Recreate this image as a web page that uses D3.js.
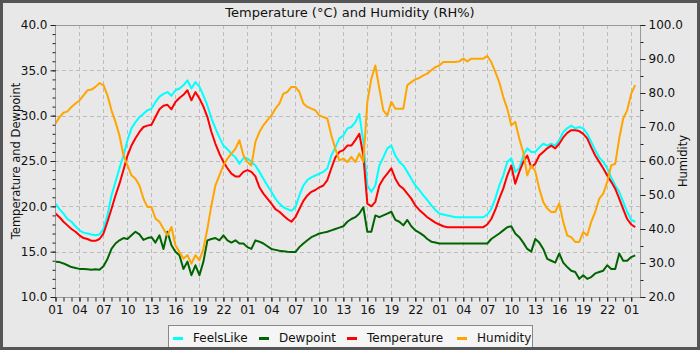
<!DOCTYPE html>
<html>
<head>
<meta charset="utf-8">
<script src="https://cdn.jsdelivr.net/npm/d3@7"></script>
<style>
  body { margin: 0; padding: 0; background: #fff; }
  text { font-family: "DejaVu Sans", sans-serif; }
</style>
</head>
<body>
<div id="chart"></div>
<script>
var width = 700,
    height = 350

// plot box (window.top is taken, so use our own names)
var plotLeft = 55, plotRight = 640, plotTop = 25, plotBottom = 297

// half-hour steps, in hours since 01:00 on the first day
var hours = d3.range(0, 73, 0.5)

// one value every half hour
var feelsLike = [
  20.3, 19.7, 19.2, 18.6, 18.3, 17.8, 17.35, 17.1, 17.0, 16.9, 16.8, 16.9,
  17.5, 19.0, 21.2, 22.7, 24.2, 25.6, 27.3, 28.6, 29.3, 29.85, 30.2, 30.6,
  30.75, 31.5, 32.1, 32.4, 32.6, 32.2, 32.8, 33.0, 33.35, 33.9, 33.0, 33.7,
  33.2, 32.2, 31.1, 29.7, 28.6, 27.6, 26.7, 26.3, 25.8, 25.4, 24.7, 25.3,
  25.3, 24.9, 24.5, 23.8, 23.05, 22.3, 21.6, 20.85, 20.3, 19.9, 19.7, 19.5,
  19.9, 21.2, 22.3, 22.9, 23.2, 23.4, 23.6, 23.8, 24.2, 25.6, 26.5, 27.5,
  27.8, 28.6, 28.75, 29.3, 30.2, 27.1, 22.3, 21.6, 22.3, 24.5, 25.4, 26.4,
  26.7, 25.6, 24.9, 24.5, 23.8, 23.05, 22.3, 21.8, 21.2, 20.7, 20.1, 19.6,
  19.2, 19.1, 19.0, 18.9, 18.8, 18.8, 18.8, 18.8, 18.8, 18.8, 18.8, 18.8,
  19.1, 19.7, 20.85, 22.3, 23.4, 24.9, 25.3, 23.8, 24.2, 25.6, 26.4, 26.0,
  26.0, 26.5, 26.9, 26.7, 26.9, 26.7, 27.3, 28.2, 28.6, 28.9, 28.6, 28.75,
  28.6, 28.0, 27.1, 26.2, 25.4, 24.9, 24.2, 23.2, 22.3, 21.6, 20.5, 19.4,
  18.5, 18.3]
var dewpoint = [
  13.9, 13.85, 13.7, 13.5, 13.3, 13.2, 13.1, 13.1, 13.05, 13.0, 13.05, 13.0,
  13.4, 14.2, 15.3, 15.9, 16.25, 16.5, 16.4, 16.8, 17.2, 16.9, 16.3, 16.5,
  16.6, 16.0, 16.8, 15.3, 17.2, 15.7, 15.0, 14.6, 13.1, 13.9, 12.4, 13.5,
  12.4, 13.9, 16.25, 16.4, 16.5, 16.25, 16.8, 16.25, 16.0, 16.25, 15.9, 15.9,
  15.5, 15.3, 16.25, 16.1, 15.9, 15.6, 15.3, 15.2, 15.1, 15.05, 15.0, 14.96,
  14.96, 15.5, 15.9, 16.25, 16.6, 16.8, 17.0, 17.1, 17.2, 17.35, 17.5, 17.65,
  17.8, 18.3, 18.6, 18.8, 19.2, 19.9, 17.2, 17.2, 19.0, 18.8, 19.0, 19.2,
  19.4, 18.5, 18.3, 17.9, 18.5, 17.8, 17.35, 17.1, 16.8, 16.4, 16.1, 16.0,
  15.9, 15.9, 15.9, 15.9, 15.9, 15.9, 15.9, 15.9, 15.9, 15.9, 15.9, 15.9,
  15.9, 16.4, 16.7, 17.0, 17.35, 17.7, 17.8, 17.0, 16.6, 16.0, 15.3, 15.0,
  16.4, 16.0, 15.3, 14.2, 14.0, 13.8, 14.8, 13.8, 13.3, 12.9, 12.75, 12.0,
  12.4, 12.0, 12.2, 12.6, 12.75, 12.9, 13.5, 13.1, 13.1, 14.8, 14.0, 14.0,
  14.4, 14.6]
var temperature = [
  19.2, 18.8, 18.3, 17.9, 17.5, 17.2, 16.8, 16.5, 16.4, 16.2, 16.2, 16.4,
  17.0, 18.3, 19.7, 21.2, 22.5, 24.0, 25.6, 26.7, 27.5, 28.2, 28.75, 28.9,
  29.0, 29.85, 30.7, 31.1, 31.2, 30.7, 31.5, 31.95, 32.3, 32.8, 31.7, 32.6,
  31.9, 31.0, 29.85, 28.2, 26.9, 25.8, 24.9, 24.2, 23.6, 23.3, 23.3, 23.8,
  24.0, 23.8, 23.3, 22.1, 21.4, 20.85, 20.3, 19.7, 19.4, 19.0, 18.6, 18.3,
  18.8, 19.7, 20.6, 21.2, 21.6, 21.8, 22.1, 22.3, 22.9, 24.2, 25.4, 26.0,
  26.2, 26.7, 26.7, 27.3, 28.0, 25.6, 20.3, 20.0, 20.5, 22.3, 23.05, 23.6,
  24.2, 23.05, 22.3, 21.95, 21.4, 20.85, 20.1, 19.6, 19.2, 18.8, 18.5, 18.2,
  18.0, 17.8, 17.7, 17.7, 17.7, 17.7, 17.7, 17.7, 17.7, 17.7, 17.7, 17.7,
  18.0, 18.6, 19.6, 20.85, 21.95, 23.4, 24.5, 22.5, 23.8, 24.9, 25.6, 24.3,
  24.7, 25.6, 26.0, 26.4, 26.7, 26.4, 26.9, 27.6, 28.1, 28.4, 28.4, 28.3,
  28.0, 27.5, 26.5, 25.6, 24.9, 24.2, 23.4, 22.7, 21.95, 20.85, 19.7, 18.6,
  18.0, 17.7]
var humidity = [
  71.0, 72.9, 74.2, 74.6, 75.9, 76.9, 77.8, 79.3, 80.8, 81.0, 81.8, 82.9,
  82.3, 79.3, 74.9, 71.5, 67.5, 61.7, 58.7, 55.8, 54.8, 52.8, 48.9, 46.5,
  46.5, 43.1, 42.1, 40.1, 38.1, 40.6, 35.2, 33.2, 31.3, 32.3, 29.8, 32.3,
  30.8, 34.2, 40.1, 47.0, 52.8, 55.8, 58.7, 60.7, 62.2, 63.6, 66.1, 61.7,
  59.7, 58.7, 65.6, 68.5, 70.5, 72.0, 73.4, 75.4, 76.9, 79.8, 80.3, 81.8,
  81.8, 80.3, 76.9, 75.9, 75.4, 74.9, 73.4, 72.9, 72.5, 67.5, 63.6, 60.2,
  60.7, 59.7, 61.2, 59.7, 62.2, 59.7, 77.4, 84.2, 88.1, 81.3, 74.9, 73.4,
  77.4, 75.4, 75.4, 75.4, 82.3, 83.2, 84.0, 84.4, 85.2, 85.7, 86.7, 87.6,
  88.1, 89.1, 89.1, 89.1, 89.1, 89.3, 90.1, 89.3, 90.1, 90.1, 90.1, 90.1,
  90.9, 89.1, 86.2, 83.2, 78.8, 75.4, 70.5, 71.5, 66.6, 62.6, 55.8, 58.7,
  57.0, 51.9, 47.9, 46.0, 45.0, 45.0, 47.5, 42.1, 38.1, 37.6, 36.2, 36.2,
  39.1, 38.1, 42.1, 45.0, 48.9, 50.4, 53.8, 58.7, 59.2, 66.6, 72.5, 74.9,
  79.8, 82.3]

var seriesNames = ["FeelsLike", "Dewpoint", "Temperature", "Humidity"]
var seriesColors = ["#00ffff", "#006400", "#ff0000", "#ffa500"]

var svg = d3.select("#chart")
  .append("svg")
    .attr("width", width)
    .attr("height", height)

// background
svg.append("rect")
  .attr("x", 0).attr("y", 0)
  .attr("width", width).attr("height", height)
  .attr("fill", "#e8e8e8")

var x = d3.scaleLinear().domain([0, 73.1]).range([plotLeft + 0.5, plotRight])
var yL = d3.scaleLinear().domain([10, 40]).range([plotBottom, plotTop])
var yR = d3.scaleLinear().domain([20, 100]).range([plotBottom, plotTop])

// grid
var grid = svg.append("g")
  .attr("stroke", "#bdbdbd")
  .attr("stroke-dasharray", "4,3")
grid.selectAll(".gx")
  .data(d3.range(3, 73, 3))
  .enter().append("line")
    .attr("x1", d => Math.round(x(d)) + 0.5).attr("x2", d => Math.round(x(d)) + 0.5)
    .attr("y1", plotTop).attr("y2", plotBottom)
grid.selectAll(".gy")
  .data([15, 20, 25, 30, 35])
  .enter().append("line")
    .attr("x1", plotLeft).attr("x2", plotRight)
    .attr("y1", d => Math.round(yL(d)) + 0.5).attr("y2", d => Math.round(yL(d)) + 0.5)

// lines
svg.append("clipPath").attr("id", "clip")
  .append("rect").attr("x", plotLeft).attr("y", plotTop)
  .attr("width", plotRight - plotLeft).attr("height", plotBottom - plotTop)

var allSeries = [
  {values: feelsLike, y: yL},
  {values: dewpoint, y: yL},
  {values: temperature, y: yL},
  {values: humidity, y: yR}
]

var plot = svg.append("g").attr("clip-path", "url(#clip)")
allSeries.forEach(function(s, i) {
  var line = d3.line()
    .x(function(d, j) { return x(hours[j]) })
    .y(function(d) { return s.y(d) })
  plot.append("path")
    .datum(s.values)
    .attr("d", line)
    .attr("fill", "none")
    .attr("stroke", seriesColors[i])
    .attr("stroke-width", 2)
    .attr("stroke-linejoin", "round")
})

// plot frame
svg.append("rect")
  .attr("x", plotLeft + 0.5).attr("y", plotTop + 0.5)
  .attr("width", plotRight - plotLeft).attr("height", plotBottom - plotTop)
  .attr("fill", "none")
  .attr("stroke", "#999")

// axes
function styleAxis(g) {
  g.select(".domain").remove()
  g.selectAll("text").attr("font-size", 12).attr("fill", "#111")
  g.selectAll("line").attr("stroke", "#222")
}

var hourFmt = function(d) { return String((d + 1) % 24).padStart(2, "0") }

svg.append("g")
  .attr("transform", "translate(0," + (plotBottom + 0.5) + ")")
  .call(d3.axisBottom(x).tickValues(d3.range(0, 73, 1)).tickSize(4).tickFormat(""))
  .call(styleAxis)
svg.append("g")
  .attr("transform", "translate(0," + (plotBottom + 0.5) + ")")
  .call(d3.axisBottom(x).tickValues(d3.range(0, 73, 3)).tickSize(4).tickPadding(4).tickFormat(hourFmt))
  .call(styleAxis)

svg.append("g")
  .attr("transform", "translate(" + (plotLeft + 0.5) + ",0)")
  .call(d3.axisLeft(yL).tickValues(d3.range(10, 41, 1)).tickSize(3).tickFormat(""))
  .call(styleAxis)
svg.append("g")
  .attr("transform", "translate(" + (plotLeft + 0.5) + ",0)")
  .call(d3.axisLeft(yL).tickValues(d3.range(10, 41, 5)).tickSize(5).tickPadding(3).tickFormat(d3.format(".1f")))
  .call(styleAxis)

svg.append("g")
  .attr("transform", "translate(" + (plotRight + 0.5) + ",0)")
  .call(d3.axisRight(yR).tickValues(d3.range(20, 101, 5)).tickSize(3).tickFormat(""))
  .call(styleAxis)
svg.append("g")
  .attr("transform", "translate(" + (plotRight + 0.5) + ",0)")
  .call(d3.axisRight(yR).tickValues(d3.range(20, 101, 10)).tickSize(5).tickPadding(3).tickFormat(d3.format(".1f")))
  .call(styleAxis)

// titles
svg.append("text")
  .attr("x", 350).attr("y", 17)
  .attr("text-anchor", "middle")
  .attr("font-size", 13)
  .attr("fill", "#111")
  .text("Temperature (°C) and Humidity (RH%)")

svg.append("text")
  .attr("transform", "translate(20," + ((plotTop + plotBottom) / 2) + ") rotate(-90)")
  .attr("text-anchor", "middle")
  .attr("font-size", 11.5)
  .attr("fill", "#111")
  .text("Temperature and Dewpoint")

svg.append("text")
  .attr("transform", "translate(687," + ((plotTop + plotBottom) / 2) + ") rotate(-90)")
  .attr("text-anchor", "middle")
  .attr("font-size", 11.5)
  .attr("fill", "#111")
  .text("Humidity")

// legend
var legend = svg.append("g")
legend.append("rect")
  .attr("x", 168.5).attr("y", 325.5)
  .attr("width", 364).attr("height", 30)
  .attr("fill", "#f5f5f5")
  .attr("stroke", "#888")

var legendX = [173, 259, 347, 457]
seriesNames.forEach(function(name, i) {
  legend.append("line")
    .attr("x1", legendX[i]).attr("x2", legendX[i] + 10)
    .attr("y1", 338.5).attr("y2", 338.5)
    .attr("stroke", seriesColors[i])
    .attr("stroke-width", 3)
  legend.append("text")
    .attr("x", legendX[i] + 20).attr("y", 342)
    .attr("font-size", 12)
    .attr("fill", "#111")
    .text(name)
})

// outer frame on top of everything
svg.append("rect")
  .attr("x", 1.5).attr("y", 1.5)
  .attr("width", width - 3).attr("height", height - 3)
  .attr("fill", "none")
  .attr("stroke", "#555")
  .attr("stroke-width", 3)
</script>
</body>
</html>
